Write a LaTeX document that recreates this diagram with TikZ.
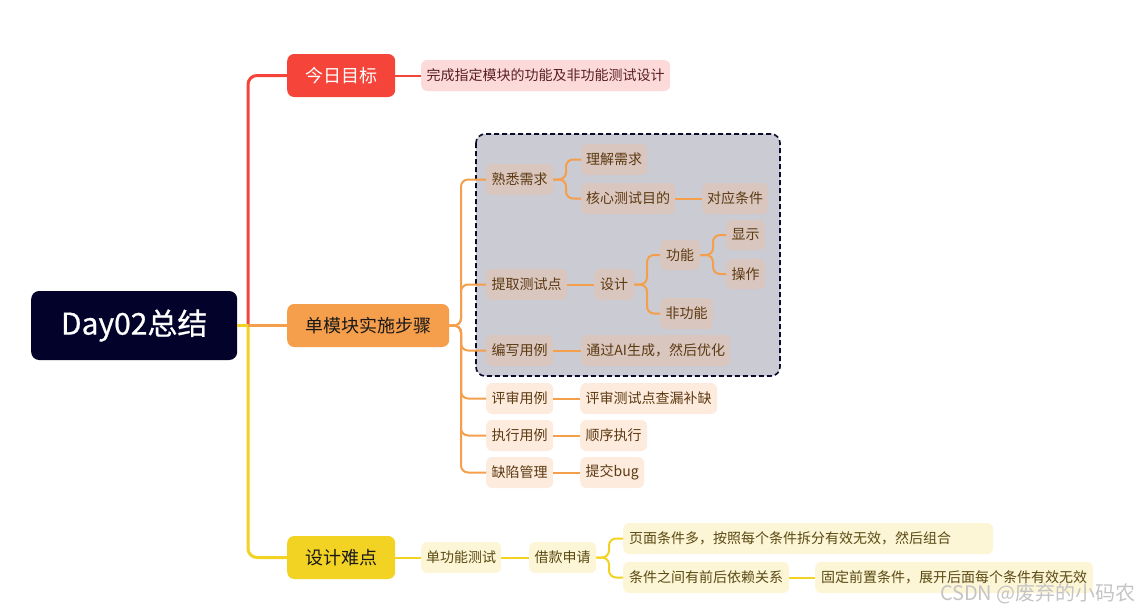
\documentclass[tikz,border=0pt]{standalone}
\usepackage{fontspec}
\setmainfont{Noto Sans CJK SC}
\newfontfamily\rootfont{Noto Sans CJK SC}[FakeBold=0.7]
\definecolor{rootc}{HTML}{02022A}
\definecolor{redc}{HTML}{F5453B}
\definecolor{orc}{HTML}{F59E4B}
\definecolor{yec}{HTML}{F2D323}
\definecolor{pinkl}{HTML}{FDDADA}
\definecolor{orl}{HTML}{FDEBDD}
\definecolor{orin}{HTML}{D9C6BE}
\definecolor{yel}{HTML}{FCF5D6}
\definecolor{boxc}{HTML}{CBCBD3}
\definecolor{boxb}{HTML}{0B0B2B}
\definecolor{txr}{HTML}{5A1E22}
\definecolor{txo}{HTML}{5C3A12}
\definecolor{txy}{HTML}{5A4A12}
\definecolor{wm}{HTML}{C4C4C4}
\begin{document}
\begin{tikzpicture}[x=1pt,y=-1pt,
  base/.style={rounded corners=6pt, inner sep=0pt, minimum height=31pt, anchor=west, font=\fontsize{14}{17}\selectfont},
  leafr/.style={base, fill=pinkl, text=txr},
  leafo/.style={base, fill=orl, text=txo},
  leafi/.style={base, fill=orin, text=txo},
  leafy/.style={base, fill=yel, text=txy},
  mainn/.style={rounded corners=7pt, inner sep=0pt, minimum height=43pt, anchor=west, font=\fontsize{18}{21}\selectfont},
  rline/.style={draw=redc, line width=3pt},
  oline/.style={draw=orc, line width=2pt, rounded corners=7pt},
  otrunk/.style={draw=orc, line width=3pt},
  yline/.style={draw=yec, line width=2pt, rounded corners=7pt},
  ytrunk/.style={draw=yec, line width=3pt, rounded corners=9pt},
]
\useasboundingbox (0,0) rectangle (1140,613);
% dashed group box
\draw[fill=boxc, draw=boxb, line width=1.6pt, dash pattern=on 5pt off 3pt, rounded corners=9pt] (476,134) rectangle (780,376);

% root and main topics
\node[rounded corners=8pt, fill=rootc, text=white, inner sep=0pt, minimum width=206pt, minimum height=69pt, anchor=west, font=\rootfont\fontsize{30}{34}\selectfont] (root) at (31,325.5) {Day02总结};
\node[mainn, fill=redc, text=white, minimum width=108pt] (m1) at (287,75.5) {今日目标};
\node[mainn, fill=orc, text=black!90, minimum width=162pt] (m2) at (287,325.5) {单模块实施步骤};
\node[mainn, fill=yec, text=black!90, minimum width=108pt] (m3) at (287,557.5) {设计难点};

% red branch
\node[leafr, minimum width=249pt] (r1) at (421,75.5) {完成指定模块的功能及非功能测试设计};

% orange branch
\node[leafi, minimum width=67pt] (a1) at (486,179.5) {熟悉需求};
\node[leafi, minimum width=81pt] (a2) at (486,284.5) {提取测试点};
\node[leafi, minimum width=67pt] (a3) at (486,350.5) {编写用例};
\node[leafo, minimum width=67pt] (a4) at (486,398.5) {评审用例};
\node[leafo, minimum width=67pt] (a5) at (486,435.5) {执行用例};
\node[leafo, minimum width=67pt] (a6) at (486,472.5) {缺陷管理};
\node[leafi, minimum width=66pt] (b1) at (581,159.5) {理解需求};
\node[leafi, minimum width=94pt] (b2) at (581,198.5) {核心测试目的};
\node[leafi, minimum width=66pt] (b3) at (702,198.5) {对应条件};
\node[leafi, minimum width=40pt] (b4) at (594,284.5) {设计};
\node[leafi, minimum width=40pt, minimum height=30pt] (b5) at (660,255) {功能};
\node[leafi, minimum width=53pt] (b6) at (660,313.5) {非功能};
\node[leafi, minimum width=39pt, minimum height=30pt] (b7) at (726,235) {显示};
\node[leafi, minimum width=39pt, minimum height=30pt] (b8) at (726,274) {操作};
\node[leafi, minimum width=149pt] (b9) at (581,350.5) {通过AI生成，然后优化};
\node[leafo, minimum width=137pt] (b10) at (580,398.5) {评审测试点查漏补缺};
\node[leafo, minimum width=67pt] (b11) at (580,435.5) {顺序执行};
\node[leafo, minimum width=64pt] (b12) at (580,472.5) {提交bug};

% yellow branch
\node[leafy, minimum width=80pt] (y1) at (421,557.5) {单功能测试};
\node[leafy, minimum width=67pt] (y2) at (529,557.5) {借款申请};
\node[leafy, minimum width=370pt, text width=358pt, inner xsep=6pt, align=left] (y3) at (623,538.5) {页面条件多，按照每个条件拆分有效无效，然后组合};
\node[leafy, minimum width=166pt] (y4) at (623,577.5) {条件之间有前后依赖关系};
\node[leafy, minimum width=278pt] (y5) at (815,577.5) {固定前置条件，展开后面每个条件有效无效};

% junction coordinates
\coordinate (tr) at (248,325.5);
\coordinate (ob) at (461,325.5);
\coordinate (ka) at (566,179.5);
\coordinate (kd) at (647,284.5);
\coordinate (kf) at (713,255);
\coordinate (yb) at (609,557.5);

% trunk connectors
\draw[rline, rounded corners=9pt] (tr) |- (m1.west);
\draw[ytrunk] (tr) |- (m3.west);
\draw[draw=yec, line width=3pt] (root.east) -- (tr);
\draw[otrunk] (tr) -- (m2.west);

% red
\draw[draw=redc, line width=2pt] (m1.east) -- (r1.west);

% orange
\draw[oline] (m2.east) -- (ob) |- (a1.west);
\draw[oline] (m2.east) -- (ob) |- (a2.west);
\draw[oline] (m2.east) -- (ob) |- (a3.west);
\draw[oline] (m2.east) -- (ob) |- (a4.west);
\draw[oline] (m2.east) -- (ob) |- (a5.west);
\draw[oline] (m2.east) -- (ob) |- (a6.west);
\draw[oline] (a1.east) -- (ka) |- (b1.west);
\draw[oline] (a1.east) -- (ka) |- (b2.west);
\draw[oline] (b2.east) -- (b3.west);
\draw[oline] (a2.east) -- (b4.west);
\draw[oline] (b4.east) -- (kd) |- (b5.west);
\draw[oline] (b4.east) -- (kd) |- (b6.west);
\draw[oline] (b5.east) -- (kf) |- (b7.west);
\draw[oline] (b5.east) -- (kf) |- (b8.west);
\draw[oline] (a3.east) -- (b9.west);
\draw[oline] (a4.east) -- (b10.west);
\draw[oline] (a5.east) -- (b11.west);
\draw[oline] (a6.east) -- (b12.west);

% yellow
\draw[yline] (m3.east) -- (y1.west);
\draw[yline] (y1.east) -- (y2.west);
\draw[yline] (y2.east) -- (yb) |- (y3.west);
\draw[yline] (y2.east) -- (yb) |- (y4.west);
\draw[yline] (y4.east) -- (y5.west);

% watermark
\node[anchor=east, text=wm, inner sep=0pt, font=\fontsize{20}{22}\selectfont] (wmk) at (1136,594) {CSDN @废弃的小码农};
\end{tikzpicture}
\end{document}
